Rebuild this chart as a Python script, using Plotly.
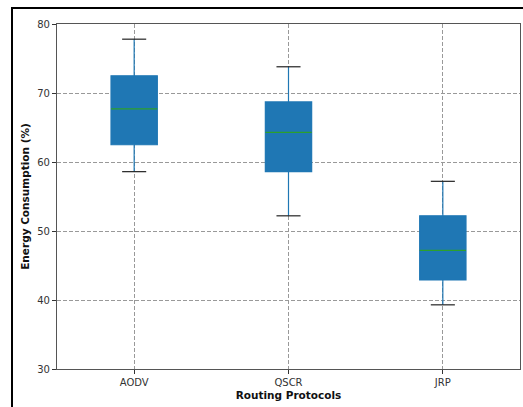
import plotly.graph_objects as go

protocols = ["AODV", "QSCR", "JRP"]
lower_whisker = [58.6, 52.2, 39.3]
q1 = [62.5, 58.6, 42.9]
median = [67.7, 64.3, 47.2]
q3 = [72.5, 68.7, 52.2]
upper_whisker = [77.8, 73.8, 57.2]

positions = list(range(len(protocols)))
BOX_W = 0.3
CAP_HALF = 0.078
BLUE = "#1f77b4"
GREEN = "#2ca02c"

fig = go.Figure()
for i, p in enumerate(positions):
    fig.add_trace(go.Box(
        x=[p], q1=[q1[i]], median=[median[i]], q3=[q3[i]],
        lowerfence=[lower_whisker[i]], upperfence=[upper_whisker[i]],
        width=BOX_W, fillcolor=BLUE, line=dict(color=BLUE, width=1.2),
        whiskerwidth=0, boxpoints=False, showlegend=False, hoverinfo="skip",
    ))
    # median line
    fig.add_trace(go.Scatter(
        x=[p - BOX_W / 2, p + BOX_W / 2], y=[median[i], median[i]],
        mode="lines", line=dict(color=GREEN, width=1.2),
        showlegend=False, hoverinfo="skip",
    ))
    # caps
    for yv in (lower_whisker[i], upper_whisker[i]):
        fig.add_trace(go.Scatter(
            x=[p - CAP_HALF, p + CAP_HALF], y=[yv, yv],
            mode="lines", line=dict(color="#222222", width=1.2),
            showlegend=False, hoverinfo="skip",
        ))

font = "DejaVu Sans"
fig.update_layout(
    width=523, height=407,
    margin=dict(l=57, r=3, t=24, b=38),
    paper_bgcolor="white", plot_bgcolor="white",
    font=dict(family=font, size=10, color="#333333"),
    xaxis=dict(
        range=[-0.5, 2.5], tickvals=positions, ticktext=protocols,
        showgrid=True, gridcolor="#999999", griddash="4px,2px", gridwidth=1,
        showline=True, linecolor="#555555", linewidth=1.2, mirror=True,
        ticks="outside", ticklen=4, tickcolor="#333333", zeroline=False,
        automargin=False,
        title=dict(text="<b>Routing Protocols</b>", font=dict(size=10.5, family=font, color="#111111"), standoff=4),
    ),
    yaxis=dict(
        range=[30, 80], tickvals=[30, 40, 50, 60, 70, 80],
        showgrid=True, gridcolor="#999999", griddash="4px,2px", gridwidth=1,
        showline=True, linecolor="#555555", linewidth=1.2, mirror=True,
        ticks="outside", ticklen=4, tickcolor="#333333", zeroline=False,
        automargin=False,
        title=dict(text="<b>Energy Consumption (%)</b>", font=dict(size=10.5, family=font, color="#111111"), standoff=5),
    ),
    shapes=[
        dict(type="rect", xref="paper", yref="paper",
             x0=(12 - 57) / 463, x1=(530 - 57) / 463,
             y0=(369 - 420) / 345, y1=1 + (24 - 8) / 345,
             line=dict(color="black", width=2), layer="above"),
    ],
)

fig.write_html(
    "out.html",
    config={"displayModeBar": False},
    post_script="document.body.style.margin='0';document.body.style.overflow='hidden';",
)
